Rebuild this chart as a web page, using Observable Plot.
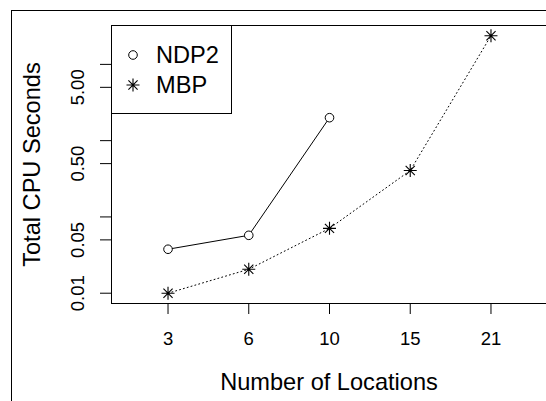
<!DOCTYPE html>
<html><head><meta charset="utf-8">
<script src="https://cdn.jsdelivr.net/npm/d3@7"></script>
<script src="https://cdn.jsdelivr.net/npm/@observablehq/plot@0.6"></script>
<style>
html,body{margin:0;padding:0;background:#fff;overflow:hidden;}
#wrap{position:relative;width:546px;height:401px;overflow:hidden;background:#fff;font-family:"Liberation Sans",Arial,Helvetica,sans-serif;}
#outer{position:absolute;left:11px;top:10px;width:700px;height:600px;border-left:1px solid #000;border-top:1px solid #000;pointer-events:none;}
#legend{position:absolute;left:111px;top:25px;}
</style>
</head><body>
<div id="wrap"><div id="chart"></div><div id="outer"></div><div id="legend"></div></div>
<script>
// ---- data ----
const locations = [3, 6, 10, 15, 21];
const ndp2 = [0.0377, 0.0574, 2.0];
const mbp = [0.01, 0.0206, 0.0708, 0.406, 23.7];
const yTickValues = [0.01, 0.05, 0.1, 0.5, 1, 5, 10];
const yTickLabels = ["0.01", "0.05", "", "0.50", "", "5.00", ""];
const seriesNames = ["NDP2", "MBP"];
const xTitle = "Number of Locations";
const yTitle = "Total CPU Seconds";

// ---- build tables ----
const ndpRows = ndp2.map((v, i) => ({i: i + 1, v}));
const mbpRows = mbp.map((v, i) => ({i: i + 1, v}));
const xIdx = locations.map((d, i) => i + 1);

// R-style 4% log-range expansion
const all = ndp2.concat(mbp);
const lo = Math.log10(d3.min(all)), hi = Math.log10(d3.max(all));
const ext = 0.04 * (hi - lo);
const yDomain = [Math.pow(10, lo - ext), Math.pow(10, hi + ext)];
const xDomain = [0.3, 5.7];

// R pch=8 asterisk
const asterisk = {
  draw(ctx, size) {
    const r = Math.sqrt(size / Math.PI);
    const d = r / Math.SQRT2;
    ctx.moveTo(-r, 0); ctx.lineTo(r, 0);
    ctx.moveTo(0, -r); ctx.lineTo(0, r);
    ctx.moveTo(-d, -d); ctx.lineTo(d, d);
    ctx.moveTo(-d, d); ctx.lineTo(d, -d);
  }
};

const tickFont = 18.5, titleFont = 23.6;
const mid = {textAnchor: "middle", lineAnchor: "middle", fill: "black"};

const chart = Plot.plot({
  width: 546,
  height: 401,
  marginLeft: 111,
  marginTop: 25,
  marginBottom: 98,
  marginRight: 0,
  style: {fontFamily: '"Liberation Sans", Arial, Helvetica, sans-serif', background: "white", overflow: "hidden"},
  x: {type: "linear", domain: xDomain, range: [111, 547], axis: null},
  y: {type: "log", domain: yDomain, axis: null},
  marks: [
    Plot.ruleY([yDomain[0], yDomain[1]], {stroke: "black", strokeWidth: 1}),
    Plot.ruleX([xDomain[0]], {stroke: "black", strokeWidth: 1}),
    Plot.axisY({ticks: yTickValues, tickSize: 11, tickFormat: () => "", label: null, stroke: "black"}),
    Plot.axisX({ticks: xIdx, tickSize: 11, tickFormat: () => "", label: null, stroke: "black"}),
    Plot.text(yTickValues, {...mid, y: d => d, frameAnchor: "left", dx: -33, rotate: -90, text: (d, i) => yTickLabels[i], fontSize: tickFont}),
    Plot.text(xIdx, {...mid, x: d => d, frameAnchor: "bottom", dy: 36, text: (d, i) => String(locations[i]), fontSize: tickFont}),
    Plot.text([xTitle], {...mid, frameAnchor: "bottom", dy: 79, text: d => d, fontSize: titleFont}),
    Plot.text([yTitle], {...mid, frameAnchor: "left", dx: -79, rotate: -90, text: d => d, fontSize: titleFont}),
    Plot.line(ndpRows, {x: "i", y: "v", stroke: "black", strokeWidth: 1}),
    Plot.line(mbpRows, {x: "i", y: "v", stroke: "black", strokeWidth: 1, strokeDasharray: "1,3"}),
    Plot.dot(ndpRows, {x: "i", y: "v", r: 4.3, stroke: "black", fill: "white", strokeWidth: 1}),
    Plot.dot(mbpRows, {x: "i", y: "v", r: 6.5, symbol: asterisk, stroke: "black", strokeWidth: 1.1})
  ]
});
document.getElementById("chart").appendChild(chart);

// ---- legend (R-style boxed legend, top-left of plot region) ----
const lg = d3.select("#legend").append("svg")
  .attr("width", 121).attr("height", 89)
  .style("display", "block");
lg.append("rect").attr("x", 0.5).attr("y", 0.5).attr("width", 120).attr("height", 88)
  .attr("fill", "white").attr("stroke", "black");
const rowsY = [30, 60];
lg.append("circle").attr("cx", 22).attr("cy", rowsY[0]).attr("r", 4.3)
  .attr("fill", "none").attr("stroke", "black");
lg.append("path").attr("transform", `translate(22,${rowsY[1]})`)
  .attr("d", d3.symbol(asterisk, 6.5 * 6.5 * Math.PI)())
  .attr("fill", "none").attr("stroke", "black").attr("stroke-width", 1.1);
seriesNames.forEach((name, k) => {
  lg.append("text").attr("x", 45).attr("y", rowsY[k]).attr("dy", "0.35em")
    .attr("font-size", titleFont).attr("font-family", '"Liberation Sans", Arial, sans-serif')
    .attr("fill", "black").text(name);
});
</script>
</body></html>
